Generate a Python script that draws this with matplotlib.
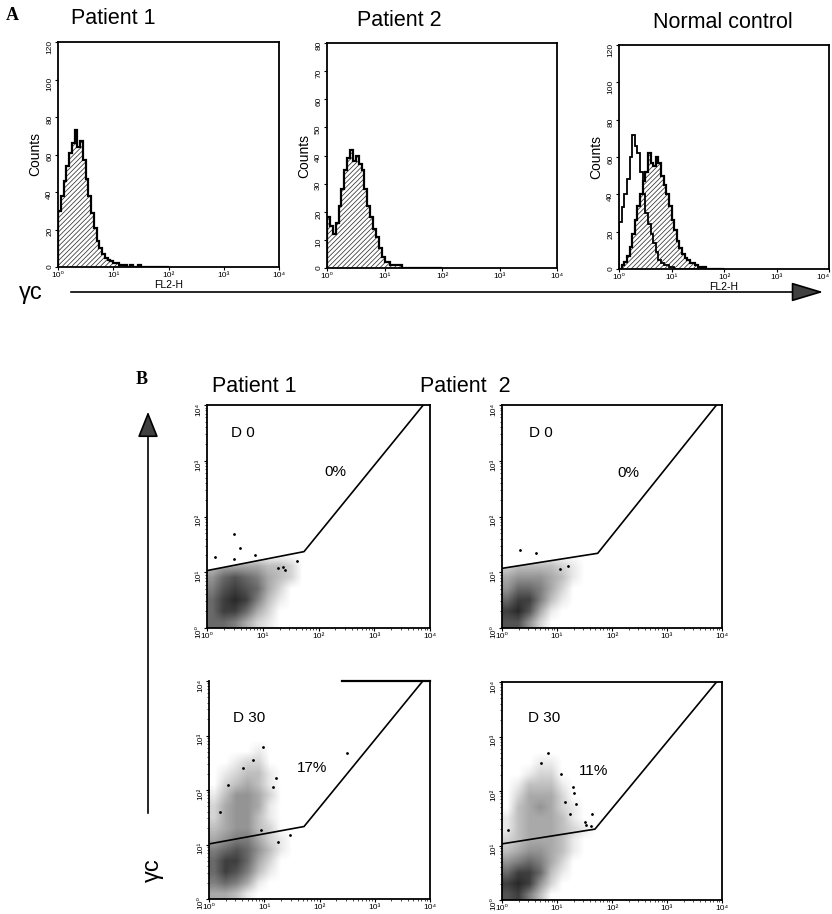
import numpy as np
import matplotlib
matplotlib.use("Agg")
import matplotlib.pyplot as plt
from matplotlib.patches import Polygon
from matplotlib.colors import LinearSegmentedColormap

plt.rcParams['font.family'] = ['Liberation Sans', 'DejaVu Sans']
plt.rcParams['hatch.linewidth'] = 0.55

W, H = 832, 914

# ---------- panel A: histograms (log10 FL2-H, 0.05-decade channels from 10^0) ----------
bin_w = 0.05
p1_counts = [30, 38, 46, 54, 61, 66, 73, 64, 67, 57, 47, 38, 29, 21, 14, 10, 7, 5, 4, 3,
             2, 2, 1, 1, 1, 0, 1, 0, 0, 1, 0, 0, 0, 0, 0, 0, 0, 0, 0, 0]
p2_counts = [18, 15, 12, 16, 22, 28, 35, 39, 42, 38, 40, 37, 35, 28, 22, 18, 14, 11, 7, 4,
             2, 2, 1, 1, 1, 1, 0, 0, 0, 0, 0, 0, 0, 0, 0, 0, 0, 0, 0, 0]
nc_iso_counts = [25, 33, 40, 48, 60, 72, 66, 62, 52, 40, 30, 24, 19, 14, 9, 5, 3, 2, 2, 1,
                 1, 0, 0, 0, 0, 0, 0, 0, 0, 0, 0, 0, 0, 0, 0, 0, 0, 0, 0, 0]
nc_gc_counts = [0, 2, 4, 7, 12, 19, 26, 34, 40, 47, 52, 62, 57, 55, 60, 57, 50, 45, 40, 34,
                26, 21, 15, 11, 8, 6, 5, 3, 3, 2, 1, 1, 1, 0, 0, 0, 0, 0, 0, 0]

decade_labels = ['10\u2070', '10\u00b9', '10\u00b2', '10\u00b3', '10\u2074']

# ---------- panel B: dot plots, density read on 0.2-decade cells (rows = y from 10^0 up) ----------
cell = 0.2
d0_p1_grid = [
    [7, 7, 6, 4, 2, 1, 0, 0],
    [7, 9, 9, 7, 4, 2, 0, 0],
    [7, 9, 10, 9, 6, 3, 1, 0],
    [6, 8, 9, 8, 7, 4, 2, 0],
    [5, 7, 8, 7, 6, 4, 3, 2],
    [3, 4, 4, 4, 4, 3, 3, 2],
]
d0_p2_grid = [
    [8, 8, 5, 2, 0, 0, 0, 0],
    [9, 10, 8, 4, 1, 0, 0, 0],
    [7, 9, 9, 6, 3, 1, 0, 0],
    [5, 7, 7, 6, 4, 2, 0, 0],
    [4, 5, 5, 5, 4, 3, 1, 0],
    [2, 3, 3, 3, 3, 2, 1, 0],
]
d30_p1_grid = [
    [4, 4, 3, 1, 0, 0, 0, 0],
    [6, 7, 6, 4, 1, 0, 0, 0],
    [7, 9, 8, 6, 3, 1, 0, 0],
    [7, 9, 9, 7, 4, 2, 0, 0],
    [6, 7, 8, 7, 5, 3, 1, 0],
    [4, 5, 6, 6, 4, 2, 1, 0],
    [3, 4, 5, 5, 3, 2, 0, 0],
    [2, 4, 5, 5, 3, 1, 0, 0],
    [2, 4, 5, 5, 4, 1, 0, 0],
    [1, 3, 5, 5, 4, 2, 0, 0],
    [0, 2, 3, 4, 3, 1, 0, 0],
    [0, 1, 2, 3, 3, 1, 0, 0],
    [0, 0, 1, 2, 2, 0, 0, 0],
    [0, 0, 0, 0, 1, 0, 0, 0],
]
d30_p2_grid = [
    [8, 9, 6, 3, 0, 0, 0, 0],
    [9, 10, 9, 5, 2, 0, 0, 0],
    [7, 9, 9, 7, 3, 1, 0, 0],
    [5, 6, 7, 6, 4, 2, 0, 0],
    [3, 4, 5, 5, 4, 3, 1, 0],
    [2, 3, 4, 4, 4, 3, 1, 0],
    [1, 3, 4, 4, 4, 3, 2, 1],
    [1, 3, 4, 4, 4, 3, 1, 0],
    [0, 3, 4, 5, 4, 2, 1, 0],
    [0, 2, 4, 4, 4, 2, 0, 0],
    [0, 1, 3, 3, 3, 1, 0, 0],
    [0, 0, 1, 2, 2, 0, 0, 0],
    [0, 0, 0, 1, 1, 0, 0, 0],
    [0, 0, 0, 0, 0, 0, 0, 0],
]

# isolated events (log10 x, log10 y)
d0_p1_dots_x = [0.48, 0.59, 0.86, 0.14, 0.49, 1.36, 1.40, 1.27, 1.61]
d0_p1_dots_y = [1.69, 1.44, 1.31, 1.28, 1.24, 1.09, 1.04, 1.08, 1.21]
d0_p2_dots_x = [0.32, 0.61, 1.05, 1.20]
d0_p2_dots_y = [1.40, 1.34, 1.05, 1.12]
d30_p1_dots_x = [0.98, 2.50, 1.22, 1.16, 1.25, 1.47, 0.95, 0.80, 0.62, 0.35, 0.20]
d30_p1_dots_y = [2.79, 2.68, 2.22, 2.06, 1.05, 1.17, 1.27, 2.55, 2.40, 2.10, 1.60]
d30_p2_dots_x = [0.84, 0.70, 1.08, 1.29, 1.53, 1.62, 0.11, 1.35, 1.30, 1.15, 1.51, 1.63, 1.24]
d30_p2_dots_y = [2.70, 2.52, 2.32, 2.08, 1.38, 1.35, 1.28, 1.77, 1.96, 1.80, 1.44, 1.57, 1.57]

# gate polylines (log10 x, log10 y)
gate_d0_p1 = ([0, 1.74, 3.88], [1.03, 1.37, 4.0])
gate_d0_p2 = ([0, 1.74, 3.90], [1.07, 1.34, 4.0])
gate_d30_p1 = ([0, 1.72, 3.87], [1.01, 1.33, 4.0])
gate_d30_p2 = ([0, 1.69, 3.90], [1.03, 1.30, 4.0])

dot_cmap = LinearSegmentedColormap.from_list('dots', ['white', '0.12'])


def px_rect(l, r, t, b):
    return [l / W, 1 - b / H, (r - l) / W, (b - t) / H]


def style_axes(ax):
    for s in ax.spines.values():
        s.set_linewidth(1.3)
    ax.set_xlim(0, 4)
    ax.set_xticks(range(5))
    ax.set_xticklabels(decade_labels)
    ax.tick_params(length=2, width=0.8, pad=1.5, labelsize=6)
    ax.tick_params(axis='y', labelrotation=90)


def draw_hist(ax, counts, ymax, ystep, filled=True, lw=1.6):
    edges = np.arange(len(counts) + 1) * bin_w
    if filled:
        ax.stairs(counts, edges, fill=True, facecolor='white', edgecolor='0.2',
                  hatch='///////', lw=0, zorder=2)
    ax.stairs(counts, edges, color='black', lw=lw, zorder=3)
    ax.set_ylim(0, ymax)
    ax.set_yticks(range(0, ymax + 1, ystep))


def draw_cloud(ax, grid, dots_x, dots_y, gate, clip_below=False):
    g = np.array(grid, float)
    nrow, ncol = g.shape
    g = np.pad(g, ((0, 1), (0, 1)))
    im = ax.imshow(g, origin='lower', extent=(0, (ncol + 1) * cell, 0, (nrow + 1) * cell),
                   cmap=dot_cmap, vmin=0, vmax=10.5, interpolation='bilinear',
                   aspect='auto', zorder=1)
    if clip_below:
        gx, gy = gate
        verts = [(-0.5, -0.5), (-0.5, gy[0])] + list(zip(gx, gy)) + [(4.5, 4.0), (4.5, -0.5)]
        poly = Polygon(verts, transform=ax.transData)
        im.set_clip_path(poly)
    ax.plot(dots_x, dots_y, 'k.', ms=2, zorder=2)
    ax.plot(gate[0], gate[1], color='black', lw=1.2, zorder=3)
    ax.set_xlim(0, 4)
    ax.set_ylim(0, 4)
    ax.set_yticks(range(5))
    ax.set_yticklabels(decade_labels)
    minor = [k + np.log10(m) for k in range(4) for m in range(2, 10)]
    ax.set_xticks(minor, minor=True)
    ax.set_yticks(minor, minor=True)
    ax.tick_params(which='minor', length=1.2, width=0.5)


fig = plt.figure(figsize=(W / 100, H / 100), dpi=100)

# overlay for free text and arrows, in pixel coordinates
ov = fig.add_axes([0, 0, 1, 1])
ov.set_xlim(0, W)
ov.set_ylim(H, 0)
ov.axis('off')

serif_bold = dict(family=['Liberation Serif', 'DejaVu Serif'], fontweight='bold', fontsize=13)
ov.text(12, 16, 'A', ha='center', va='center', **serif_bold)
ov.text(142, 380, 'B', ha='center', va='center', **serif_bold)
ov.text(113, 18, 'Patient 1', ha='center', va='center', fontsize=15.5)
ov.text(399, 21, 'Patient 2', ha='center', va='center', fontsize=15.5)
ov.text(723, 22, 'Normal control', ha='center', va='center', fontsize=15.5)
ov.text(254, 386, 'Patient 1', ha='center', va='center', fontsize=15.5)
ov.text(465, 386, 'Patient  2', ha='center', va='center', fontsize=15.5)

ov.text(31, 293, '\u03b3c', ha='center', va='center', fontsize=17)
ov.annotate('', xy=(826, 292), xytext=(68, 292),
            arrowprops=dict(arrowstyle='-|>,head_length=1.0,head_width=0.3',
                            mutation_scale=20, lw=1.2, color='black', fc='0.25'))
ov.text(153, 870, '\u03b3c', ha='center', va='center', fontsize=17, rotation=90)
ov.annotate('', xy=(148, 409), xytext=(148, 816),
            arrowprops=dict(arrowstyle='-|>,head_length=0.8,head_width=0.32',
                            mutation_scale=20, lw=1.2, color='black', fc='0.25'))

# panel A
ax1 = fig.add_axes(px_rect(58, 279, 42, 267))
draw_hist(ax1, p1_counts, 120, 20)
style_axes(ax1)
ax1.set_ylabel('Counts', fontsize=10, labelpad=3)
ax1.set_xlabel('FL2-H', fontsize=7.5, labelpad=1)

ax2 = fig.add_axes(px_rect(327, 557, 43, 268))
draw_hist(ax2, p2_counts, 80, 10)
style_axes(ax2)
ax2.set_ylabel('Counts', fontsize=10, labelpad=3)

ax3 = fig.add_axes(px_rect(619, 829, 45, 269))
draw_hist(ax3, nc_gc_counts, 120, 20)
draw_hist(ax3, nc_iso_counts, 120, 20, filled=False, lw=1.3)
style_axes(ax3)
ax3.get_xticklabels()[-1].set_horizontalalignment('right')
ax3.set_ylabel('Counts', fontsize=10, labelpad=3)
ax3.set_xlabel('FL2-H', fontsize=7.5, labelpad=1)

# panel B
b1 = fig.add_axes(px_rect(207, 430, 405, 628))
draw_cloud(b1, d0_p1_grid, d0_p1_dots_x, d0_p1_dots_y, gate_d0_p1, clip_below=True)
style_axes(b1)
b1.text(0.65, 3.5, 'D 0', ha='center', va='center', fontsize=11)
b1.text(2.30, 2.79, '0%', ha='center', va='center', fontsize=11)

b2 = fig.add_axes(px_rect(502, 722, 405, 628))
draw_cloud(b2, d0_p2_grid, d0_p2_dots_x, d0_p2_dots_y, gate_d0_p2, clip_below=True)
style_axes(b2)
b2.text(0.70, 3.5, 'D 0', ha='center', va='center', fontsize=11)
b2.text(2.29, 2.78, '0%', ha='center', va='center', fontsize=11)

b3 = fig.add_axes(px_rect(209, 430, 681, 899))
draw_cloud(b3, d30_p1_grid, d30_p1_dots_x, d30_p1_dots_y, gate_d30_p1)
style_axes(b3)
b3.spines['top'].set_visible(False)
b3.plot([2.4, 4.0], [4.0, 4.0], color='black', lw=1.6, clip_on=False)
b3.text(0.72, 3.33, 'D 30', ha='center', va='center', fontsize=11)
b3.text(1.86, 2.41, '17%', ha='center', va='center', fontsize=11)

b4 = fig.add_axes(px_rect(502, 722, 682, 900))
draw_cloud(b4, d30_p2_grid, d30_p2_dots_x, d30_p2_dots_y, gate_d30_p2)
style_axes(b4)
b4.text(0.76, 3.34, 'D 30', ha='center', va='center', fontsize=11)
b4.text(1.67, 2.37, '11%', ha='center', va='center', fontsize=11)

fig.savefig('out.png', dpi=100)
